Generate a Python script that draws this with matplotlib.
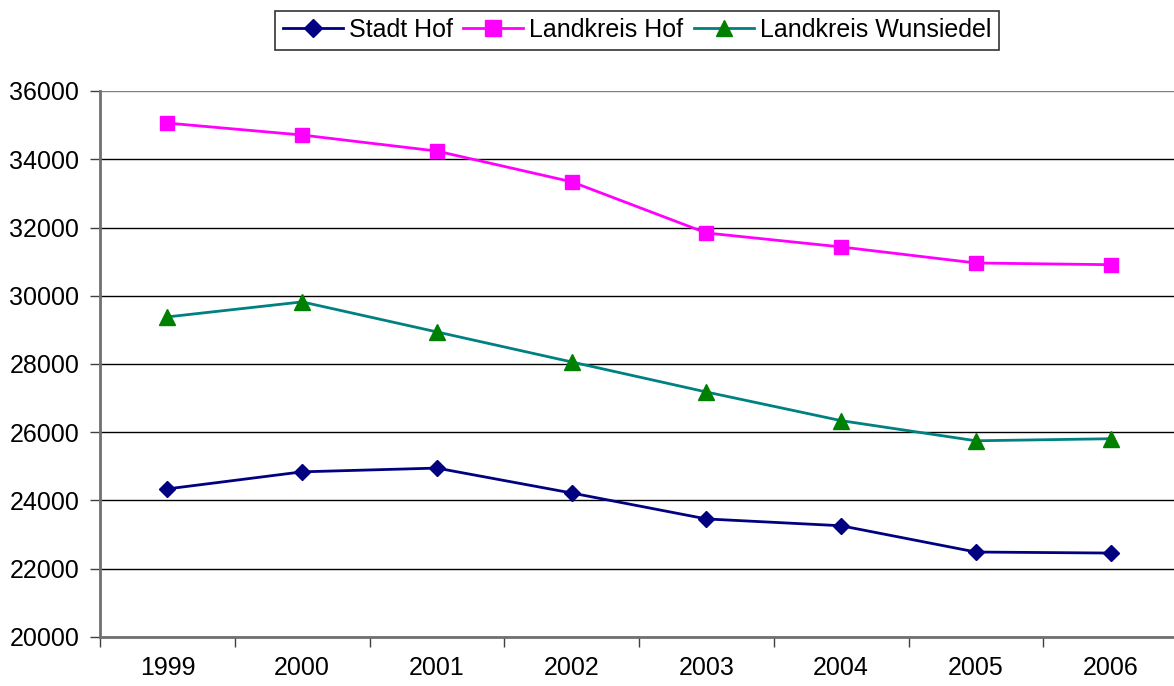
import numpy as np
import matplotlib.pyplot as plt

plt.rcParams['font.family'] = ['Liberation Sans', 'DejaVu Sans']

years = ['1999', '2000', '2001', '2002', '2003', '2004', '2005', '2006']
stadt_hof = [24340, 24840, 24950, 24220, 23460, 23260, 22490, 22460]
landkreis_hof = [35060, 34710, 34240, 33340, 31840, 31430, 30960, 30910]
landkreis_wunsiedel = [29380, 29820, 28940, 28060, 27180, 26340, 25750, 25810]

fig = plt.figure(figsize=(11.74, 6.86), dpi=100)
ax = fig.add_axes([100 / 1174, 49 / 686, 1078 / 1174, 546 / 686])

x = np.arange(len(years))
ax.plot(x, stadt_hof, color='#000080', lw=2, marker='D', ms=8.5,
        mfc='#000080', mec='#000080', label='Stadt Hof', clip_on=False, zorder=5)
ax.plot(x, landkreis_hof, color='#FF00FF', lw=2, marker='s', ms=10.5,
        mfc='#FF00FF', mec='#FF00FF', label='Landkreis Hof', clip_on=False, zorder=5)
ax.plot(x, landkreis_wunsiedel, color='#008080', lw=2, marker='^', ms=11,
        mfc='#008000', mec='#008000', label='Landkreis Wunsiedel', clip_on=False, zorder=5)

ax.set_xlim(-0.5, len(years) - 0.5)
ax.set_ylim(20000, 36000)
ax.set_yticks(np.arange(20000, 36001, 2000))
ax.yaxis.grid(True, color='#000000', lw=1)
ax.set_axisbelow(True)
# top gridline is drawn lighter, like the plot-area border
ax.yaxis.get_gridlines()[-1].set_color('#808080')

ax.set_xticks(np.arange(-0.5, len(years), 1.0))
ax.set_xticklabels([])
ax.set_xticks(x, minor=True)
ax.set_xticklabels(years, minor=True)
ax.tick_params(axis='x', which='major', length=7, width=1, color='#404040', direction='out')
ax.tick_params(axis='x', which='minor', length=0, pad=14, labelsize=18)
ax.tick_params(axis='y', length=7, width=1, color='#404040', labelsize=18, pad=8)

for side in ['top', 'right']:
    ax.spines[side].set_visible(False)
ax.spines['left'].set_color('#707070')
ax.spines['bottom'].set_color('#707070')
ax.spines['left'].set_linewidth(2)
ax.spines['bottom'].set_linewidth(2)

leg = fig.legend(loc='center', bbox_to_anchor=(637 / 1174, 1 - 30 / 686), ncol=3,
                 fontsize=18, frameon=True, fancybox=False, edgecolor='black',
                 handlelength=2.4, handletextpad=0.25, columnspacing=0.4,
                 borderpad=0.3, borderaxespad=0, markerscale=1.1)
leg.get_frame().set_linewidth(1.2)

fig.savefig('out.png', dpi=100)
